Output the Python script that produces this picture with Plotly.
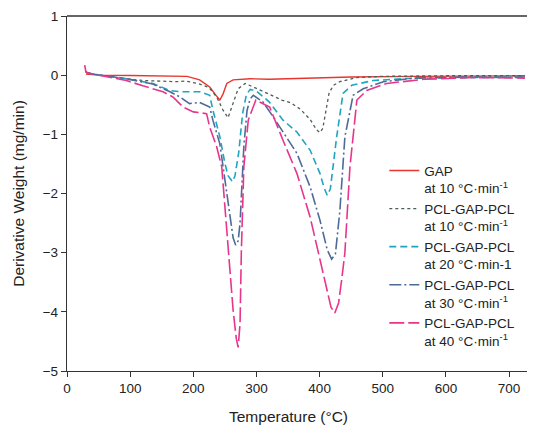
import plotly.graph_objects as go

# ---- data (Temperature °C, derivative weight mg/min) ----
gap_t = [30, 50, 100, 150, 190, 210, 226, 235, 242, 247, 253, 263, 290, 320, 350, 400, 450, 550, 650, 725]
gap_v = [0.02, 0.0, -0.005, -0.01, -0.02, -0.08, -0.2, -0.33, -0.42, -0.32, -0.14, -0.08, -0.06, -0.07, -0.06, -0.04, -0.03, -0.02, -0.01, -0.01]

p10_t = [30, 40, 68, 120, 173, 189, 210, 225, 237, 247, 255, 263, 271, 282, 300, 320, 340, 355, 370, 385, 395, 400.5, 405, 410, 415, 422, 432, 459, 500, 600, 725]
p10_v = [0.05, 0.02, -0.03, -0.09, -0.11, -0.10, -0.15, -0.21, -0.37, -0.59, -0.72, -0.48, -0.23, -0.14, -0.22, -0.32, -0.42, -0.47, -0.58, -0.75, -0.92, -0.97, -0.9, -0.6, -0.3, -0.17, -0.11, -0.04, -0.02, -0.01, -0.01]

p20_t = [30, 40, 94, 136, 163, 179, 210, 226, 231, 242, 250, 255, 262, 266, 272, 278, 284, 290, 300, 320, 342, 364, 385, 400.5, 407, 412, 417, 422, 427, 437, 451, 485, 550, 650, 720, 725]
p20_v = [0.05, 0.02, -0.06, -0.14, -0.26, -0.28, -0.28, -0.34, -0.59, -1.04, -1.49, -1.7, -1.80, -1.7, -1.3, -0.65, -0.33, -0.24, -0.27, -0.45, -0.76, -0.96, -1.27, -1.66, -1.9, -2.03, -1.92, -1.5, -1.04, -0.31, -0.17, -0.09, -0.05, -0.04, -0.04, -0.07]

p30_t = [30, 40, 94, 136, 163, 179, 194, 210, 226, 231, 242, 250, 258, 263, 267, 271, 274, 277, 280, 285, 290, 295, 310, 325, 342, 364, 385, 400.5, 412, 419, 425, 432, 440, 453, 469, 501, 550, 650, 725]
p30_v = [0.05, 0.02, -0.06, -0.15, -0.28, -0.37, -0.48, -0.46, -0.54, -0.76, -1.16, -1.78, -2.45, -2.75, -2.87, -2.8, -2.5, -1.9, -1.2, -0.6, -0.4, -0.34, -0.45, -0.68, -0.96, -1.32, -1.89, -2.45, -2.95, -3.11, -3.02, -2.3, -1.04, -0.34, -0.23, -0.11, -0.05, -0.03, -0.03]

p40_t = [28, 30, 40, 94, 120, 152, 168, 184, 200, 221, 226, 237, 245, 255, 263, 268, 271, 274, 276, 280, 287, 299, 321, 342, 364, 385, 398, 410, 418, 424, 430, 435, 440, 448, 459, 474.5, 506, 565, 646, 725]
p40_v = [0.17, 0.05, 0.02, -0.09, -0.18, -0.28, -0.37, -0.54, -0.62, -0.65, -0.88, -1.21, -1.55, -2.84, -3.97, -4.45, -4.6, -4.2, -3.0, -1.55, -0.76, -0.42, -0.54, -1.10, -1.66, -2.40, -3.0, -3.6, -3.92, -4.02, -3.85, -3.45, -3.0, -1.55, -0.42, -0.26, -0.14, -0.07, -0.04, -0.05]

names = [
    "GAP<br>at 10 °C·min<sup>-1</sup>",
    "PCL-GAP-PCL<br>at 10 °C·min<sup>-1</sup>",
    "PCL-GAP-PCL<br>at 20 °C·min-1",
    "PCL-GAP-PCL<br>at 30 °C·min<sup>-1</sup>",
    "PCL-GAP-PCL<br>at 40 °C·min<sup>-1</sup>",
]
colors = ["#e8352f", "#4f5e50", "#1fa5c2", "#4e6b98", "#e8358c"]
dashes = ["solid", "dot", "7px,4px", "12px,3px,2px,3px", "15px,4px"]
widths = [1.4, 1.3, 1.6, 1.6, 1.6]

x_ticks = [0, 100, 200, 300, 400, 500, 600, 700]
y_ticks = [-5, -4, -3, -2, -1, 0, 1]

series = [(gap_t, gap_v), (p10_t, p10_v), (p20_t, p20_v), (p30_t, p30_v), (p40_t, p40_v)]

fig = go.Figure()
for (t, v), n, c, d, w in zip(series, names, colors, dashes, widths):
    fig.add_trace(go.Scatter(x=t, y=v, mode="lines", name=n,
                             line=dict(color=c, dash=d, width=w)))

font = "Liberation Sans, Arial, sans-serif"
fig.update_layout(
    width=527, height=420,
    margin=dict(l=59, r=0, t=8, b=57, autoexpand=False),
    paper_bgcolor="white", plot_bgcolor="white",
    font=dict(family=font, size=13, color="#222"),
    showlegend=True,
    legend=dict(x=0.678, y=0.608, xanchor="left", yanchor="top",
                bgcolor="rgba(0,0,0,0)", valign="top", itemwidth=30,
                font=dict(size=13.5, color="#222"), tracegroupgap=0),
    xaxis=dict(range=[0, 741], tickvals=x_ticks, ticks="outside", ticklen=5,
               showgrid=False, zeroline=False, showline=True, linecolor="#333",
               linewidth=1.3, tickcolor="#333", tickfont=dict(size=13.5), automargin=False),
    yaxis=dict(range=[-5, 1], tickvals=y_ticks, ticks="outside", ticklen=5,
               showgrid=False, zeroline=False, showline=True, linecolor="#333",
               linewidth=1.3, tickcolor="#333", tickfont=dict(size=13.5), automargin=False,
               title=dict(text="Derivative Weight (mg/min)", font=dict(size=15.5), standoff=14)),
    shapes=[dict(type="line", xref="paper", yref="paper", x0=0, x1=1, y0=1, y1=1,
                 line=dict(color="#333", width=1.3))],
    annotations=[dict(text="Temperature (°C)", xref="x", yref="paper", x=350, y=-0.127,
                      xanchor="center", yanchor="middle", showarrow=False,
                      font=dict(size=15.5, color="#222"))],
)

fig.write_html("out.html")
